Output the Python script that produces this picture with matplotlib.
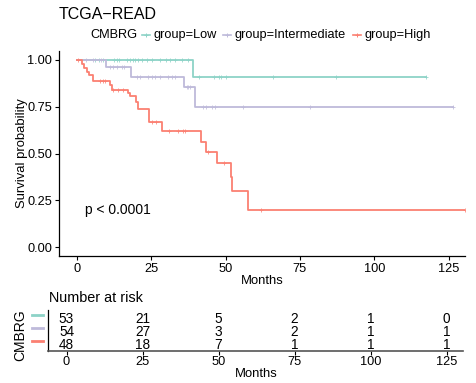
import matplotlib
matplotlib.use("Agg")
import matplotlib.pyplot as plt
import matplotlib.transforms as mtransforms
from matplotlib.lines import Line2D
import numpy as np

plt.rcParams['font.family'] = ['Liberation Sans', 'DejaVu Sans']

# ---------------- data ----------------
groups = ["Low", "Intermediate", "High"]
colors = ["#8DD3C7", "#BEBADA", "#FB8072"]

low_t = [0, 39.1, 117.5]
low_s = [1.0, 0.911, 0.911]
low_cens = [6.1, 7.6, 8.7, 12.6, 13.6, 14.3, 16.8, 17.9, 19.0, 19.7, 20.7, 21.8,
            23.7, 25.2, 28.0, 30.0, 31.3, 33.0, 35.2, 37.5, 41.1, 46.2, 47.9,
            48.6, 50.0, 66.0, 87.0, 117.5]

int_t = [0, 9.8, 18.1, 36.1, 39.6, 126.6]
int_s = [1.0, 0.962, 0.911, 0.857, 0.747, 0.747]
int_cens = [3.0, 5.5, 8.0, 11.2, 12.3, 13.6, 15.1, 15.9, 20.1, 21.2, 24.0, 25.2,
            26.3, 28.0, 30.7, 31.9, 33.0, 36.9, 37.5, 38.0, 42.5, 43.3, 45.6,
            46.4, 55.7, 78.3, 126.6]

high_t = [0, 1.6, 2.3, 3.3, 4.2, 5.5, 11.2, 11.7, 17.3, 17.9, 19.9, 20.5, 24.4,
          28.5, 41.6, 43.4, 47.2, 51.7, 52.0, 57.6, 130.5]
high_s = [1.0, 0.979, 0.958, 0.938, 0.917, 0.888, 0.866, 0.840, 0.825, 0.809,
          0.777, 0.738, 0.667, 0.622, 0.563, 0.510, 0.448, 0.373, 0.299, 0.198, 0.198]
high_cens = [0.5, 7.8, 8.7, 9.3, 12.3, 14.0, 15.6, 25.2, 26.5, 31.1, 34.1, 35.8,
             36.3, 44.2, 49.5, 62.0, 130.5]

risk_times = [0, 25, 50, 75, 100, 125]
risk_low = [53, 21, 5, 2, 1, 0]
risk_int = [54, 27, 3, 2, 1, 1]
risk_high = [48, 18, 7, 1, 1, 1]

x_ticks = [0, 25, 50, 75, 100, 125]
y_ticks = [0.0, 0.25, 0.5, 0.75, 1.0]
y_ticklabels = ["0.00", "0.25", "0.50", "0.75", "1.00"]

curves = [(low_t, low_s, low_cens), (int_t, int_s, int_cens), (high_t, high_s, high_cens)]
risks = [risk_low, risk_int, risk_high]

# ---------------- figure ----------------
W, H = 477, 383
fig = plt.figure(figsize=(W / 100, H / 100), dpi=100)

def fx(px):
    return px / W

def fy(py):
    return 1 - py / H

ax = fig.add_axes([fx(59), fy(256.4), fx(465) - fx(59), fy(50.6) - fy(256.4)])
for (t, s, c), col in zip(curves, colors):
    ax.step(t, s, where='post', color=col, lw=1.3)
    t_arr = np.array(t)
    s_arr = np.array(s)
    idx = np.searchsorted(t_arr, np.array(c), side='right') - 1
    ax.plot(c, s_arr[idx], ls='none', marker='+', ms=3.5, mew=0.6, color=col, alpha=0.9)

ax.set_xlim(-6, 130.5)
ax.set_ylim(-0.05, 1.05)
ax.set_xticks(x_ticks)
ax.set_yticks(y_ticks)
ax.set_yticklabels(y_ticklabels)
for sp in ['top', 'right']:
    ax.spines[sp].set_visible(False)
for sp in ['left', 'bottom']:
    ax.spines[sp].set_linewidth(0.9)
ax.tick_params(axis='both', length=3, width=0.8, labelsize=9.2, pad=2, colors='black')
ax.set_xlabel("Months", fontsize=9.4, labelpad=0)
ax.set_ylabel("Survival probability", fontsize=9.4)
ax.yaxis.set_label_coords((28 - 59) / 406, 0.5)
ax.text(2.8, 0.2, "p < 0.0001", fontsize=10, ha='left', va='center')

# title
fig.text(fx(59), fy(14.5), "TCGA\u2212READ", fontsize=11.5, ha='left', va='center')

# legend (manual)
leg_y = fy(35)
fig.text(fx(90), leg_y, "CMBRG", fontsize=9.2, ha='left', va='center')
key_x = [146, 227, 357]
lab_x = [154, 235, 365]
for g, col, kx, lx in zip(groups, colors, key_x, lab_x):
    fig.add_artist(Line2D([fx(kx - 4), fx(kx + 4)], [leg_y, leg_y], color=col, lw=1.2,
                          transform=fig.transFigure))
    fig.add_artist(Line2D([fx(kx)], [leg_y], color=col, marker='+', ms=3.5, mew=0.7,
                          transform=fig.transFigure))
    fig.text(fx(lx), leg_y, "group=" + g, fontsize=9.2, ha='left', va='center')

# ---------------- risk table ----------------
tab = fig.add_axes([fx(48.3), fy(350.7), fx(463.3) - fx(48.3), fy(310) - fy(350.7)])
tab.set_xlim(-6, 130.5)
tab.set_ylim(2.6, -0.6)
for row, (vals, col) in enumerate(zip(risks, colors)):
    for t, v in zip(risk_times, vals):
        tab.text(t, row, str(v), fontsize=9.8, ha='center', va='center_baseline')
tab.set_xticks(x_ticks)
tab.set_yticks([])
for sp in ['top', 'right']:
    tab.spines[sp].set_visible(False)
tab.spines['left'].set_linewidth(0.9)
tab.spines['bottom'].set_linewidth(1.2)
tab.spines['bottom'].set_color('#555555')
tab.tick_params(axis='x', length=3, width=0.8, labelsize=9.2, pad=1)
tab.set_xlabel("Months", fontsize=9.4, labelpad=0)

blend = mtransforms.blended_transform_factory(fig.transFigure, tab.transData)
for row, col in enumerate(colors):
    fig.add_artist(Line2D([fx(32), fx(43)], [row - 0.2, row - 0.2], color=col, lw=2,
                          transform=blend))

fig.text(fx(20.7), fy(335), "CMBRG", fontsize=10, rotation=90, ha='center', va='center')
fig.text(fx(49.3), fy(297.7), "Number at risk", fontsize=10.4, ha='left', va='center')

fig.savefig("out.png", dpi=100)
